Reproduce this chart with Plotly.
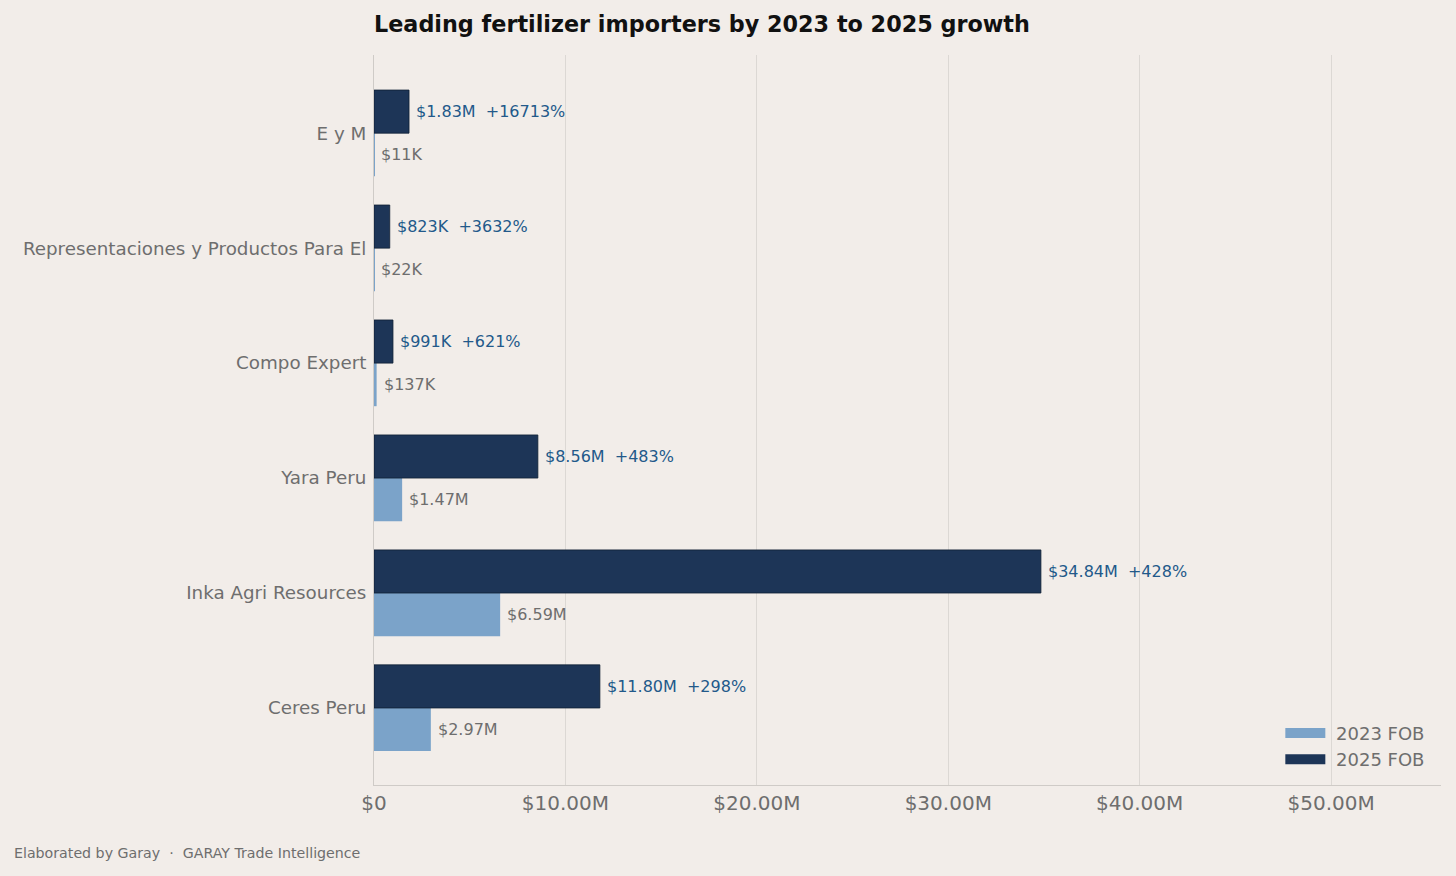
import plotly.graph_objects as go

COMPANIES = [
    'Ceres Peru',
    'Inka Agri Resources',
    'Yara Peru',
    'Compo Expert',
    'Representaciones y Productos Para El',
    'E y M',
]
FOB_2023 = [2.97, 6.59, 1.47, 0.137, 0.022, 0.011]   # USD millions
FOB_2025 = [11.80, 34.84, 8.56, 0.991, 0.823, 1.83]  # USD millions
GROWTH_PCT = [298, 428, 483, 621, 3632, 16713]

X_TICKS = [0, 10, 20, 30, 40, 50]
X_TICK_TEXT = ['$0', '$10.00M', '$20.00M', '$30.00M', '$40.00M', '$50.00M']

BG = '#f2ede9'
LIGHT = '#7ba3c9'
DARK = '#1d3557'
GREY_TEXT = '#6e6e6e'
BLUE_TEXT = '#22598a'
FONT = 'DejaVu Sans'


def money(v):
    if v < 1:
        return f'${v * 1000:.0f}K'
    return f'${v:.2f}M'


fig = go.Figure()

fig.add_trace(go.Bar(y=COMPANIES, x=FOB_2023, orientation='h', name='2023 FOB',
                     marker=dict(color=LIGHT, line=dict(width=0)),
                     showlegend=False))
fig.add_trace(go.Bar(y=COMPANIES, x=FOB_2025, orientation='h', name='2025 FOB',
                     marker=dict(color=DARK, line=dict(color='#0f1f33', width=0.8)),
                     showlegend=False))

# legend swatches as wide rectangles, like the original
for name, colour in [('2023 FOB', LIGHT), ('2025 FOB', DARK)]:
    fig.add_trace(go.Scatter(x=[None], y=[None], mode='lines', name='\u00a0' + name,
                             line=dict(color=colour, width=14)))

# value labels at the end of every bar
for comp, v23, v25, pct in zip(COMPANIES, FOB_2023, FOB_2025, GROWTH_PCT):
    fig.add_annotation(x=v25, y=comp, text=f'{money(v25)} \u00a0+{pct}%',
                       xanchor='left', yanchor='middle', xshift=5, yshift=21.5,
                       showarrow=False, font=dict(size=16, color=BLUE_TEXT, family=FONT))
    fig.add_annotation(x=v23, y=comp, text=money(v23),
                       xanchor='left', yanchor='middle', xshift=5, yshift=-21.5,
                       showarrow=False, font=dict(size=16, color=GREY_TEXT, family=FONT))

fig.add_annotation(x=-0.3395, y=-0.093, xref='paper', yref='paper',
                   text='Elaborated by Garay \u00a0·\u00a0 GARAY Trade Intelligence',
                   xanchor='left', yanchor='middle', showarrow=False,
                   font=dict(size=14.2, color=GREY_TEXT, family=FONT))

fig.update_layout(
    width=1456, height=876,
    paper_bgcolor=BG, plot_bgcolor=BG,
    margin=dict(l=374, r=15, t=55, b=91),
    barmode='group', bargap=0.25, bargroupgap=0,
    font=dict(family=FONT, color=GREY_TEXT),
    title=dict(text='<b>Leading fertilizer importers by 2023 to 2025 growth</b>',
               x=0, xref='paper', xanchor='left',
               y=1 - 24 / 876, yref='container', yanchor='middle',
               font=dict(size=22.3, color='#111111', family=FONT)),
    legend=dict(x=0.99, y=0.01, xanchor='right', yanchor='bottom',
                bgcolor='rgba(0,0,0,0)', traceorder='normal',
                font=dict(size=18, color=GREY_TEXT), itemwidth=40,
                tracegroupgap=0),
    xaxis=dict(range=[0, 55.74], tickvals=X_TICKS, ticktext=X_TICK_TEXT,
               showgrid=True, gridcolor='#dcd8d4', gridwidth=1,
               zeroline=False, showline=True, linecolor='#cfcbc7', linewidth=1,
               ticks='', tickfont=dict(size=20, color=GREY_TEXT)),
    yaxis=dict(categoryorder='array', categoryarray=COMPANIES,
               range=[-0.67, 5.68], showgrid=False, zeroline=False,
               showline=True, linecolor='#cfcbc7', linewidth=1,
               ticks='outside', ticklen=3, tickcolor=BG,
               tickfont=dict(size=18.3, color=GREY_TEXT)),
)

fig.write_html('out.html', config={'displayModeBar': False},
               post_script="document.body.style.margin='0';"
                           "document.body.style.background='#f2ede9';")
